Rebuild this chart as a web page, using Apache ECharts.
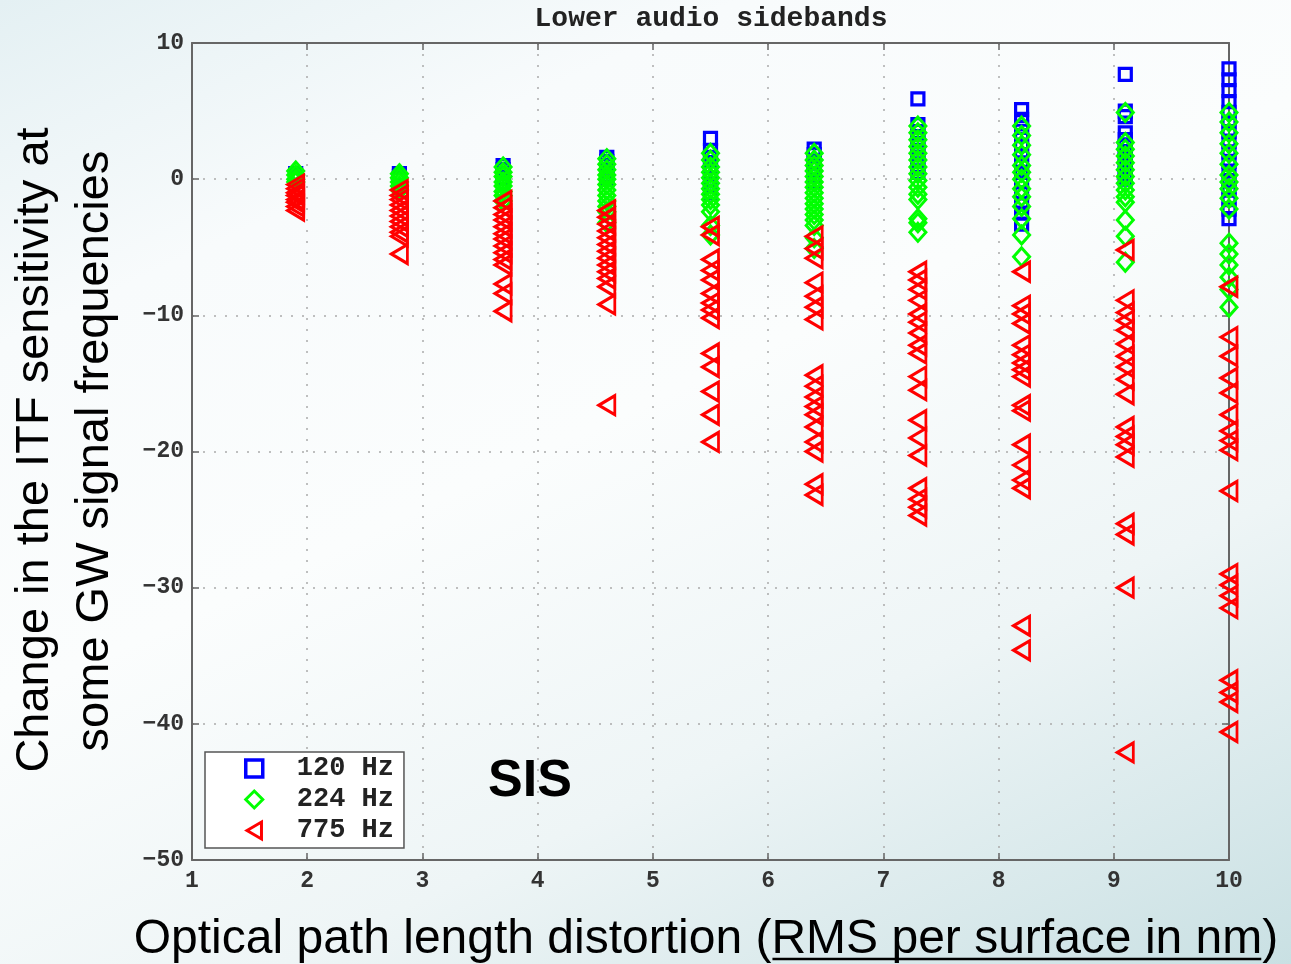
<!DOCTYPE html>
<html>
<head>
<meta charset="utf-8">
<script src="https://cdn.jsdelivr.net/npm/echarts@6/dist/echarts.min.js"></script>
<style>
  html, body { margin: 0; padding: 0; }
  body {
    width: 1291px; height: 964px; overflow: hidden;
    background: linear-gradient(155deg, #e4f0f3 0%, #f8fbfc 22%, #fbfdfd 45%, #eef5f6 70%, #c9e0e3 100%);
  }
  #chart { width: 1291px; height: 964px; }
</style>
</head>
<body>
<div id="chart"></div>
<script>
// ---- Data ----
var distortion = [1.9, 2.8, 3.7, 4.6, 5.5, 6.4, 7.3, 8.2, 9.1, 10.0];

var hz120 = [
  [0.4, 0.2, 0.0],
  [0.4, 0.2, 0.0],
  [1.0, 0.7, 0.4, 0.1],
  [1.6, 1.3, 1.0, 0.6, 0.3, 0.0],
  [3.0, 2.1, 1.6, 1.0, 0.5, 0.0, -0.5, -1.0],
  [2.2, 1.8, 1.3, 0.8, 0.3, -0.2],
  [5.9, 4.0, 3.5, 3.0, 2.5, 2.0, 1.5, 1.0, 0.5],
  [5.1, 4.4, 3.8, 3.2, 2.5, 1.8, 1.2, 0.5, -0.2, -1.0, -1.8, -2.5, -3.3],
  [7.7, 5.0, 4.6, 3.4, 2.9, 2.4, 1.9, 1.4, 0.9, 0.4, 0.0],
  [8.1, 7.3, 6.5, 5.7, 4.9, 4.2, 3.5, 2.8, 2.0, 1.3, 0.6, -0.1, -0.8, -1.5, -2.2, -2.9]
];

var hz224 = [
  [0.6, 0.3, 0.0, -0.2],
  [0.4, 0.1, -0.2, -0.5, -0.8],
  [0.9, 0.5, 0.2, -0.2, -0.5, -0.9, -1.2, -1.6],
  [1.5, 1.1, 0.7, 0.3, 0.0, -0.4, -0.8, -1.2, -1.6, -2.0, -2.4, -3.2],
  [1.9, 1.4, 0.9, 0.5, 0.1, -0.3, -0.7, -1.1, -1.5, -1.9, -2.4, -3.4, -4.1],
  [1.9, 1.4, 1.0, 0.6, 0.2, -0.2, -0.6, -1.0, -1.4, -1.8, -2.2, -2.6, -3.0, -3.4, -4.3, -5.1],
  [3.9, 3.4, 2.9, 2.4, 1.9, 1.4, 0.9, 0.4, -0.1, -0.6, -1.1, -1.5, -2.9, -3.2, -3.9],
  [3.9, 3.2, 2.5, 1.8, 1.0, 0.5, 0.0, -0.7, -1.3, -2.0, -2.9, -4.1, -5.7],
  [4.9, 2.7, 2.2, 1.7, 1.2, 0.7, 0.2, -0.3, -0.8, -1.3, -1.7, -3.0, -4.2, -6.1],
  [4.9, 4.2, 3.4, 2.6, 1.9, 1.1, 0.3, -0.2, -0.7, -1.4, -2.2, -4.7, -5.5, -6.3, -7.2, -8.1, -9.4]
];

var hz775 = [
  [-0.4, -0.7, -1.0, -1.2, -1.5, -1.7, -2.0, -2.3],
  [-0.8, -1.2, -1.5, -1.9, -2.3, -2.7, -3.1, -3.5, -3.9, -4.2, -5.5],
  [-1.6, -2.1, -2.6, -3.0, -3.5, -4.0, -4.4, -4.9, -5.4, -5.9, -6.3, -7.7, -8.4, -9.7],
  [-2.3, -2.8, -3.3, -3.8, -4.3, -4.8, -5.3, -5.8, -6.3, -6.8, -7.3, -7.9, -9.2, -16.6],
  [-3.5, -4.1, -5.9, -6.7, -7.4, -8.4, -9.1, -9.6, -10.2, -12.8, -13.8, -15.6, -17.3, -19.3],
  [-4.2, -5.1, -5.8, -7.6, -8.6, -9.4, -10.3, -14.4, -15.2, -16.0, -16.7, -17.3, -18.2, -19.3, -20.0, -22.4, -23.2],
  [-6.8, -7.4, -8.1, -8.9, -9.9, -10.5, -11.3, -12.2, -12.8, -14.5, -15.5, -17.7, -19.0, -20.3, -22.7, -23.5, -24.1, -24.7],
  [-6.8, -9.3, -9.9, -10.6, -12.2, -12.9, -13.5, -14.0, -14.5, -16.6, -17.0, -19.5, -21.0, -22.1, -22.7, -32.8, -34.6],
  [-5.2, -8.9, -9.8, -10.4, -11.1, -12.1, -13.0, -13.8, -14.7, -15.8, -18.2, -18.9, -19.5, -20.4, -25.3, -26.1, -30.0, -42.1],
  [-7.9, -11.6, -13.0, -14.6, -15.7, -17.3, -18.5, -19.2, -19.9, -22.9, -29.0, -29.8, -30.6, -31.5, -36.8, -37.7, -38.4, -40.6]
];

var seriesNames = ['120 Hz', '224 Hz', '775 Hz'];
var titleText = 'Lower audio sidebands';
var xTitle1 = 'Optical path length distortion (';
var xTitle2 = 'RMS per surface in nm';
var xTitle3 = ')';
var yTitle = ['Change in the ITF sensitivity at', 'some GW signal frequencies'];
var noteText = 'SIS';

function toPoints(groups) {
  var out = [];
  groups.forEach(function (ys, i) {
    ys.forEach(function (y) { out.push([distortion[i], y]); });
  });
  return out;
}

var mono = '"Liberation Mono", "DejaVu Sans Mono", monospace';
var sans = '"Liberation Sans", Arial, sans-serif';

// measure x-title parts for the underline
var xFont = '48px "Liberation Sans"';
var ctx = document.createElement('canvas').getContext('2d');
ctx.font = xFont;
var w1 = ctx.measureText(xTitle1).width;
var w2 = ctx.measureText(xTitle2).width;
var w3 = ctx.measureText(xTitle3).width;
var totalW = w1 + w2 + w3;
var xTitleCenter = 706;
var xStart = xTitleCenter - totalW / 2;

var chart = echarts.init(document.getElementById('chart'), null, { renderer: 'canvas' });

var axisLineStyle = { color: '#666', width: 2 };
var tickStyle = { show: true, inside: true, length: 7, lineStyle: { color: '#666', width: 1.5 } };

var option = {
  backgroundColor: 'transparent',
  animation: false,
  title: {
    text: titleText,
    left: 706,
    top: 0,
    textAlign: 'center',
    textStyle: { fontFamily: mono, fontWeight: 'bold', fontSize: 28, color: '#222' }
  },
  grid: { left: 192, right: 62, top: 43, bottom: 104, containLabel: false },
  legend: {
    orient: 'vertical',
    left: 205,
    top: 752,
    padding: [3, 10, 4, 39],
    itemWidth: 17,
    itemHeight: 17,
    itemGap: 4,
    backgroundColor: '#ffffff',
    borderColor: '#555',
    borderWidth: 1.5,
    borderRadius: 0,
    textStyle: { fontFamily: mono, fontWeight: 'bold', fontSize: 27, color: '#222', padding: [0, 0, 0, 29] },
    data: [
      { name: seriesNames[0], itemStyle: { borderWidth: 3.5 } },
      { name: seriesNames[1], itemStyle: { borderWidth: 3 } },
      { name: seriesNames[2], itemStyle: { borderWidth: 3 } }
    ],
    z: 10
  },
  xAxis: [
    {
      type: 'value', min: 1, max: 10, interval: 1,
      axisLine: { show: true, onZero: false, lineStyle: axisLineStyle },
      axisTick: tickStyle,
      axisLabel: { fontFamily: mono, fontWeight: 'bold', fontSize: 23, color: '#333', margin: 10 },
      splitLine: { show: true, lineStyle: { color: '#aaa', type: [2, 9], width: 1.5 } }
    },
    {
      type: 'value', min: 1, max: 10, interval: 1, position: 'top',
      axisLine: { show: true, onZero: false, lineStyle: axisLineStyle },
      axisTick: tickStyle,
      axisLabel: { show: false },
      splitLine: { show: false }
    }
  ],
  yAxis: [
    {
      type: 'value', min: -50, max: 10, interval: 10,
      axisLine: { show: true, onZero: false, lineStyle: axisLineStyle },
      axisTick: tickStyle,
      axisLabel: {
        fontFamily: mono, fontWeight: 'bold', fontSize: 23, color: '#333', margin: 8,
        formatter: function (v) { return String(v).replace('-', '\u2212'); }
      },
      splitLine: { show: true, lineStyle: { color: '#aaa', type: [2, 9], width: 1.5 } }
    },
    {
      type: 'value', min: -50, max: 10, interval: 10, position: 'right',
      axisLine: { show: true, onZero: false, lineStyle: axisLineStyle },
      axisTick: tickStyle,
      axisLabel: { show: false },
      splitLine: { show: false }
    }
  ],
  series: [
    {
      name: seriesNames[0], type: 'scatter', data: toPoints(hz120),
      symbol: 'rect', symbolSize: 12,
      itemStyle: { color: 'rgba(255,255,255,0)', borderColor: '#0000ff', borderWidth: 3.2, opacity: 1 },
      emphasis: { disabled: true }, z: 2
    },
    {
      name: seriesNames[1], type: 'scatter', data: toPoints(hz224),
      symbol: 'diamond', symbolSize: [16, 18],
      itemStyle: { color: 'rgba(255,255,255,0)', borderColor: '#00ff00', borderWidth: 3, opacity: 1 },
      emphasis: { disabled: true }, z: 3
    },
    {
      name: seriesNames[2], type: 'scatter', data: toPoints(hz775),
      symbol: 'path://M0,10 L17,0 L17,20 Z', symbolSize: [16, 19],
      itemStyle: { color: 'rgba(255,255,255,0)', borderColor: '#ff0000', borderWidth: 3, opacity: 1 },
      emphasis: { disabled: true }, z: 4
    }
  ],
  graphic: [
    {
      type: 'text', x: 530, y: 782, z: 20,
      style: { text: noteText, font: 'bold 52px ' + sans, fill: '#000', textAlign: 'center', textVerticalAlign: 'middle' }
    },
    {
      type: 'text', x: 35, y: 450, rotation: Math.PI / 2, z: 20,
      style: { text: yTitle[0], font: '47px ' + sans, fill: '#000', textAlign: 'center', textVerticalAlign: 'middle' }
    },
    {
      type: 'text', x: 95, y: 451, rotation: Math.PI / 2, z: 20,
      style: { text: yTitle[1], font: '47px ' + sans, fill: '#000', textAlign: 'center', textVerticalAlign: 'middle' }
    },
    {
      type: 'text', x: xStart, y: 940, z: 20,
      style: { text: xTitle1 + xTitle2 + xTitle3, font: '48px ' + sans, fill: '#000', textAlign: 'left', textVerticalAlign: 'middle' }
    },
    {
      type: 'line', z: 20,
      shape: { x1: xStart + w1 + 1, y1: 959, x2: xStart + w1 + w2 - 1, y2: 959 },
      style: { stroke: '#000', lineWidth: 2.5 }
    }
  ]
};

chart.setOption(option);
</script>
</body>
</html>
